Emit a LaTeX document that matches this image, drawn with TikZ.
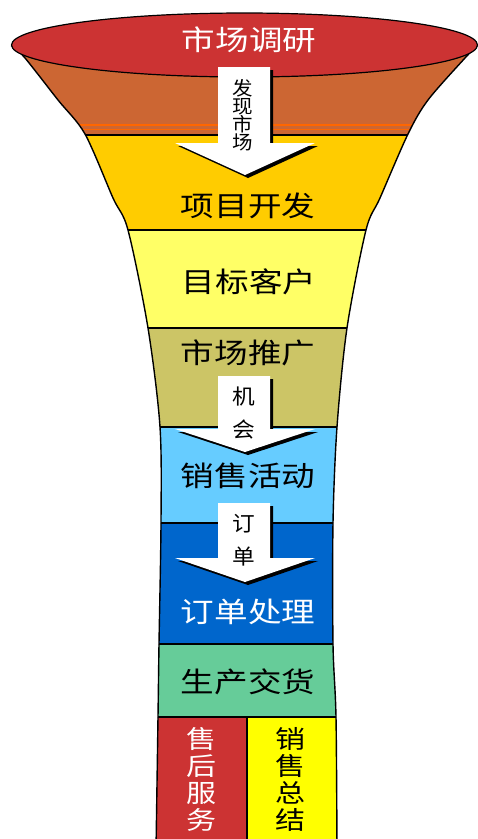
\documentclass[tikz,border=0pt]{standalone}
\usepackage{fontspec}
\setmainfont[FakeStretch=1.2]{Noto Sans CJK SC}
\newfontfamily\arrowfont[FakeStretch=1.08]{Noto Sans CJK SC}

\definecolor{topred}{RGB}{204,51,51}
\definecolor{bandorange}{RGB}{204,102,51}
\definecolor{brightorange}{RGB}{255,102,0}
\definecolor{bandgold}{RGB}{255,204,0}
\definecolor{bandlight}{RGB}{255,255,102}
\definecolor{bandkhaki}{RGB}{204,197,102}
\definecolor{bandsky}{RGB}{102,204,255}
\definecolor{bandblue}{RGB}{0,102,204}
\definecolor{bandgreen}{RGB}{102,204,153}
\definecolor{bandyellow}{RGB}{255,255,0}

\tikzset{
  stagetxt/.style={inner sep=0pt, font=\fontsize{28}{28}\selectfont},
  arrowtxt/.style={inner sep=0pt, align=center, font=\arrowfont\fontsize{21}{33}\selectfont},
  sidetxt/.style={inner sep=0pt, align=center, font=\fontsize{25}{27}\selectfont},
  bandline/.style={draw=black, line width=1.1pt},
  funnelline/.style={draw=black, line width=1.4pt}
}

% outline of the funnel
\def\funnel{plot[smooth] coordinates {(13,47) (25,58) (58,100) (85,134) (113,198) (128,230) (148,328) (160,427) (161,523) (159,644) (158,717) (156,850)}
  -- plot[smooth] coordinates {(337,850) (336,717) (333,644) (333,523) (337,427) (347,328) (366,230) (380,198) (408,134) (428,100) (465,58) (476,47)} -- cycle}

% white arrow with a dark shadow: shaft top, head top, tip
\newcommand{\flowarrow}[3]{%
  \foreach \dx/\c in {3/black,0/white}
    \fill[\c, shift={(\dx,\dx)}] (218,#1) -- (270,#1) -- (270,#2) -- (315,#2)
      -- (245,#3) -- (175,#2) -- (218,#2) -- cycle;}

\begin{document}
\begin{tikzpicture}[x=1pt, y=-1pt]
\useasboundingbox (0,0) rectangle (478,839);

\begin{scope}
  \clip \funnel;
  \foreach \ya/\yb/\col in {40/135/bandorange, 135/230/bandgold, 230/328/bandlight,
      328/427/bandkhaki, 427/523/bandsky, 523/644/bandblue, 644/717/bandgreen}
    \fill[\col] (0,\ya) rectangle (478,\yb);
  \fill[topred] (0,717) rectangle (247,850);
  \fill[bandyellow] (247,717) rectangle (478,850);
  \draw[brightorange, line width=1.2pt] (0,125) -- (478,125) (0,129.5) -- (478,129.5);
  \foreach \y in {135,230,328,427,523,644,717}
    \draw[bandline] (0,\y) -- (478,\y);
  \draw[bandline] (247,717) -- (247,850);
\end{scope}
\draw[funnelline] \funnel;

\filldraw[fill=topred, draw=black, line width=1.2pt] (244.5,45) ellipse [x radius=233, y radius=32];

\node[stagetxt, text=white] (survey) at (249,40) {市场调研};
\node[stagetxt] (project) at (248,206) {项目开发};
\node[stagetxt] (target) at (249,282) {目标客户};
\node[stagetxt] (promo) at (248,353) {市场推广};
\node[stagetxt] (sales) at (248,476) {销售活动};
\node[stagetxt, text=white] (orders) at (248,612) {订单处理};
\node[stagetxt] (delivery) at (248,682) {生产交货};
\node[sidetxt, text=white] (service) at (201,779) {售\\后\\服\\务};
\node[sidetxt] (summary) at (290,779) {销\\售\\总\\结};

\flowarrow{67}{143}{175}
\flowarrow{376}{429}{452}
\flowarrow{503}{558}{582}

\node[arrowtxt, font=\arrowfont\fontsize{19}{18}\selectfont] (find) at (243,115) {发\\现\\市\\场};
\node[arrowtxt] (chance) at (244,413) {机\\会};
\node[arrowtxt] (bill) at (244,540) {订\\单};
\end{tikzpicture}
\end{document}
